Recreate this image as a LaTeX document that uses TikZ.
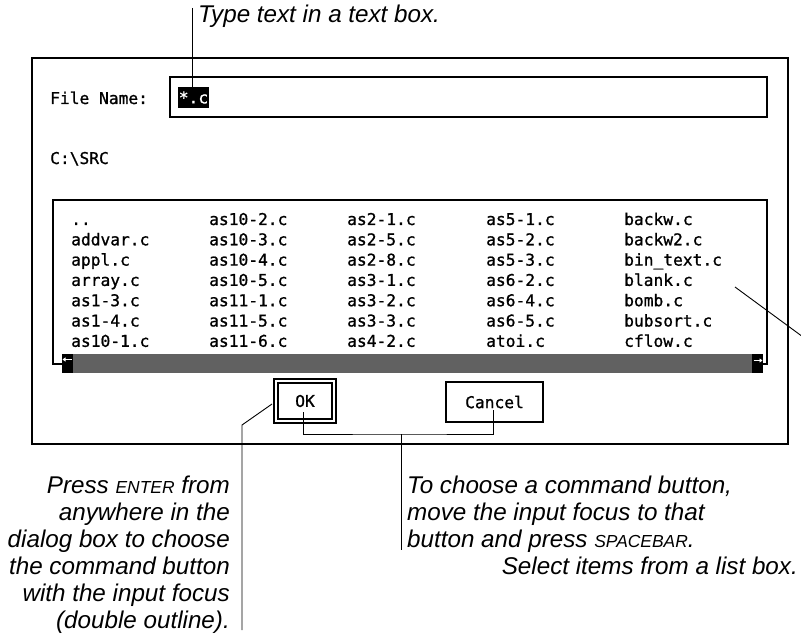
\documentclass[tikz,border=0pt]{standalone}
\usepackage{fontspec}
\setmainfont{Liberation Sans}
\newfontfamily\scrfont[FakeBold=1]{DejaVu Sans Mono}
\usetikzlibrary{arrows.meta}
\newcommand{\keycap}[1]{{\fontsize{17.5}{17.5}\selectfont #1}}
\tikzset{
  frame/.style={draw, line width=2bp, inner sep=0pt},
  lead/.style={draw, line width=0.9bp},
  scr/.style={font=\scrfont\fontsize{16.3}{18}\selectfont, inner sep=0pt},
  note/.style={font=\itshape\fontsize{24.3}{27.2}\selectfont, inner sep=0pt},
  endbox/.style={fill=black, minimum width=11bp, minimum height=19bp, inner sep=0pt},
  tinyarrow/.style={white, line width=1bp, -{Triangle[length=3bp,width=4bp]}},
}
\begin{document}
\begin{tikzpicture}[x=1bp,y=-1bp]
\useasboundingbox (0,0) rectangle (801,635);

% dialog frame
\node[frame, minimum width=756bp, minimum height=386bp] (dialog) at (410,251) {};

% file name field with selected text
\node[scr, anchor=base west] (fnlabel) at (50,104) {File Name:};
\node[frame, minimum width=597bp, minimum height=40bp] (field) at (468.5,97) {};
\node[scr, fill=black, text=white, minimum width=31bp, minimum height=21bp] (sel) at (193.5,97.5) {*.c};

% current directory
\node[scr, anchor=base west] (dir) at (50,164) {C:\textbackslash SRC};

% list box entries, seven per column
\foreach \name [count=\i from 0] in {..,addvar.c,appl.c,array.c,as1-3.c,as1-4.c,as10-1.c,
  as10-2.c,as10-3.c,as10-4.c,as10-5.c,as11-1.c,as11-5.c,as11-6.c,
  as2-1.c,as2-5.c,as2-8.c,as3-1.c,as3-2.c,as3-3.c,as4-2.c,
  as5-1.c,as5-2.c,as5-3.c,as6-2.c,as6-4.c,as6-5.c,atoi.c,
  backw.c,backw2.c,bin\_text.c,blank.c,bomb.c,bubsort.c,cflow.c}{
  \pgfmathtruncatemacro\cc{\i/7}
  \pgfmathtruncatemacro\rr{mod(\i,7)}
  \pgfmathsetmacro\xx{{71,209,347,486,624}[\cc]}
  \pgfmathsetmacro\yy{225+20.3*\rr}
  \node[scr, anchor=base west] (entry\i) at (\xx,\yy) {\name};
}

% horizontal scroll bar
\node[fill=black!62, minimum width=701bp, minimum height=19bp, inner sep=0pt] (sbar) at (412.5,363.5) {};
\node[endbox] (larr) at (67.5,363.5) {};
\node[endbox] (rarr) at (757.5,363.5) {};
\draw[tinyarrow] ([xshift=4bp,yshift=4bp]larr.center) -- ([xshift=-5bp,yshift=4bp]larr.center);
\draw[tinyarrow] ([xshift=-4bp,yshift=3bp]rarr.center) -- ([xshift=5bp,yshift=3bp]rarr.center);

% list box frame
\coordinate (lbtl) at (53,200);
\coordinate (lbtr) at (767,200);
\draw[frame] (larr.west) -| (lbtl) -- (lbtr) |- (rarr.east);

% command buttons
\node[draw, line width=2.4bp, minimum width=62bp, minimum height=44bp, inner sep=0pt] (okout) at (305,401) {};
\node[scr, draw, line width=1.6bp, minimum width=54bp, minimum height=36bp] (ok) at (305,401) {OK};
\node[scr, draw, line width=2bp, minimum width=97bp, minimum height=40bp] (cancel) at (494.5,402) {Cancel};

% annotations
\node[note, anchor=base west] (typetext) at (198,23) {Type text in a text box.};
\coordinate (typetop) at (192,8);
\draw[lead] (typetop) -- (typetop |- sel.north);

\node[note, anchor=north east, align=right] (enter) at (230,475.5)
  {Press \keycap{ENTER} from\\anywhere in the\\dialog box to choose\\the command button\\with the input focus\\(double outline).};
\coordinate (okfoot) at (242,630);
\coordinate (okbend) at (242,425);
\coordinate (okhook) at (272,404);
\draw[lead] (okfoot) -- (okbend) -- (okhook);

\node[note, anchor=north west, align=left] (choose) at (407,475.5)
  {To choose a command button,\\move the input focus to that\\button and press \keycap{SPACEBAR}.};
\coordinate (okpin) at (303,412);
\coordinate (cpin) at (493,410);
\coordinate (brk) at (401,434);
\draw[lead] (okpin) |- (brk) -| (cpin);
\draw[lead] (brk) -- (brk |- 0,550);

\node[note, anchor=base east] (listnote) at (798,574) {Select items from a list box.};
\coordinate (listpt) at (735,287);
\coordinate (listedge) at (801,335.5);
\draw[lead] (listpt) -- (listedge);
\end{tikzpicture}
\end{document}
